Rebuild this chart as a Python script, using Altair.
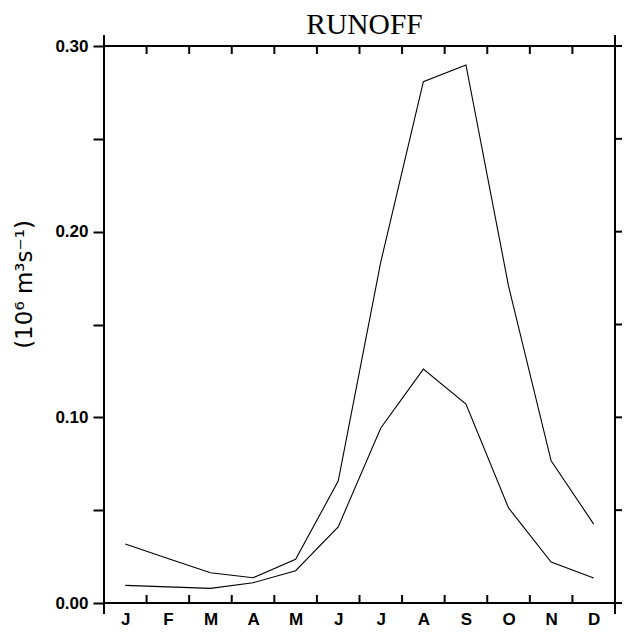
import json
import altair as alt
import pandas as pd

months_num = [1, 2, 3, 4, 5, 6, 7, 8, 9, 10, 11, 12]
month_labels = ["J", "F", "M", "A", "M", "J", "J", "A", "S", "O", "N", "D"]
upper = [0.0318, 0.0240, 0.0163, 0.0136, 0.0235, 0.0657, 0.1837, 0.2808, 0.2898, 0.1707, 0.0766, 0.0425]
lower = [0.0095, 0.0087, 0.0079, 0.0109, 0.0174, 0.0410, 0.0943, 0.1260, 0.1072, 0.0512, 0.0221, 0.0135]
month_bounds = [1.5, 2.5, 3.5, 4.5, 5.5, 6.5, 7.5, 8.5, 9.5, 10.5, 11.5]
x_ends = [0.5, 12.5]
y_ticks = [0.0, 0.05, 0.10, 0.15, 0.20, 0.25, 0.30]

W, H = 511, 557

df = pd.DataFrame(
    {"month": months_num * 2,
     "value": upper + lower,
     "series": ["upper"] * 12 + ["lower"] * 12}
)
bounds_df = pd.DataFrame({"b": month_bounds})
ends_df = pd.DataFrame({"e": x_ends})
yt_df = pd.DataFrame({"v": y_ticks})

xs = alt.Scale(domain=[0.5, 12.5], nice=False, zero=False)
ys = alt.Scale(domain=[0, 0.30], nice=False, zero=False)

label_expr = json.dumps(month_labels) + "[datum.value - 1]"

lines = alt.Chart(df).mark_line(color="black", strokeWidth=1.1).encode(
    x=alt.X("month:Q", scale=xs,
            axis=alt.Axis(values=months_num, labelExpr=label_expr, tickSize=0,
                          domain=False, grid=False, title=None,
                          labelFont="Liberation Sans", labelFontWeight="bold",
                          labelFontSize=17, labelColor="black", labelPadding=8)),
    y=alt.Y("value:Q", scale=ys,
            axis=alt.Axis(values=y_ticks, tickSize=11, tickWidth=2, tickColor="black",
                          domain=False, grid=False,
                          labelExpr="(round(datum.value*100) % 10 == 0) ? format(datum.value, '.2f') : ''",
                          labelFont="Liberation Sans", labelFontWeight="bold",
                          labelFontSize=17, labelColor="black", labelPadding=5,
                          title="(10⁶  m³s⁻¹)", titleFont="DejaVu Sans",
                          titleFontWeight="normal", titleFontSize=23, titleColor="black",
                          titleY=238, titleX=-80, titleBaseline="middle")),
    detail="series:N",
)

bot_ticks = alt.Chart(bounds_df).mark_rule(color="black", strokeWidth=2).encode(
    x=alt.X("b:Q", scale=xs), y=alt.value(H), y2=alt.value(H - 8))
top_ticks = alt.Chart(bounds_df).mark_rule(color="black", strokeWidth=2).encode(
    x=alt.X("b:Q", scale=xs), y=alt.value(0), y2=alt.value(8))
corner_top = alt.Chart(ends_df).mark_rule(color="black", strokeWidth=2).encode(
    x=alt.X("e:Q", scale=xs), y=alt.value(-11), y2=alt.value(0))
corner_bot = alt.Chart(ends_df).mark_rule(color="black", strokeWidth=2).encode(
    x=alt.X("e:Q", scale=xs), y=alt.value(H), y2=alt.value(H + 11))
right_ticks = alt.Chart(yt_df).mark_rule(color="black", strokeWidth=2).encode(
    y=alt.Y("v:Q", scale=ys), x=alt.value(W), x2=alt.value(W + 10))

chart = alt.layer(lines, bot_ticks, top_ticks, corner_top, corner_bot, right_ticks).properties(
    width=W, height=H,
    title=alt.TitleParams("RUNOFF", font="Liberation Serif", fontSize=29.5,
                          fontWeight="normal", color="black", frame="group",
                          anchor="middle", offset=-6, dx=5),
    autosize=alt.AutoSizeParams(type="none"),
    padding={"left": 96, "top": 38, "right": 7, "bottom": 25},
).configure_view(stroke="black", strokeWidth=2)

chart.save("out.html", embed_options={"renderer": "svg", "actions": False})
